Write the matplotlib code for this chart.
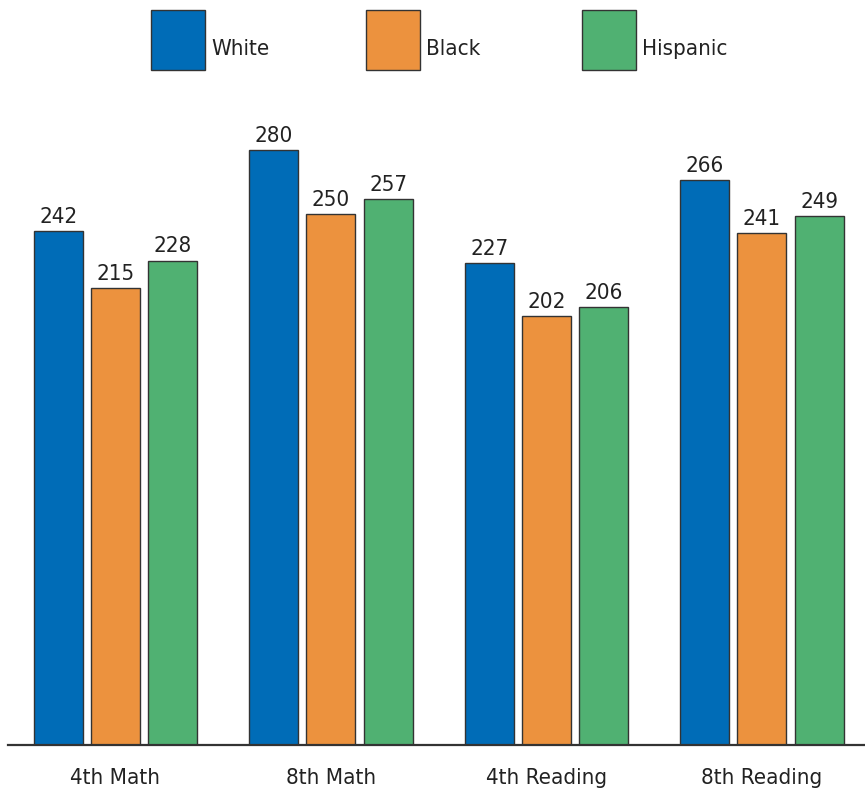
import numpy as np
from matplotlib import pyplot as plt
from matplotlib.patches import Rectangle

# data
categories = ["4th Math", "8th Math", "4th Reading", "8th Reading"]
groups = ["White", "Black", "Hispanic"]
white = [242, 280, 227, 266]
black = [215, 250, 202, 241]
hispanic = [228, 257, 206, 249]
colors = ["#006cb7", "#ec923e", "#50b172"]

plt.rcParams['font.family'] = ['DejaVu Sans']
plt.rcParams['font.stretch'] = 'condensed'

W, H = 865, 788
fig = plt.figure(figsize=(W / 100, H / 100), dpi=100)
ax = fig.add_axes([8 / W, 1 - 745 / H, 1 - 8 / W, (745 - 80) / H])

x = np.arange(len(categories))
width = 0.2274
step = 0.2657
edge = "#333333"
fs = 16

for i, (vals, c) in enumerate(zip([white, black, hispanic], colors)):
    bars = ax.bar(x + (i - 1) * step, vals, width, color=c, edgecolor=edge, linewidth=1.0)
    ax.bar_label(bars, labels=[str(v) for v in vals], padding=3, fontsize=fs, color="#222222")

ax.set_xlim(-0.4988, 3.478)
ax.set_ylim(0, 313)
ax.set_xticks(x)
ax.set_xticklabels(categories, fontsize=fs, color="#222222")
ax.tick_params(axis='x', length=0, pad=16.5)
ax.set_yticks([])
for s in ["left", "right", "top"]:
    ax.spines[s].set_visible(False)
ax.spines["bottom"].set_linewidth(1.6)
ax.spines["bottom"].set_color("#333333")

# legend drawn by hand in figure pixels
leg_x = [151, 366, 582]
for lx, name, c in zip(leg_x, groups, colors):
    fig.add_artist(Rectangle((lx / W, 1 - 70 / H), 54 / W, 60 / H, transform=fig.transFigure,
                             facecolor=c, edgecolor=edge, linewidth=1.0))
    fig.text((lx + 60) / W, 1 - 49 / H, name, fontsize=fs, va="center", ha="left", color="#222222")

fig.savefig("out.png", dpi=100)
